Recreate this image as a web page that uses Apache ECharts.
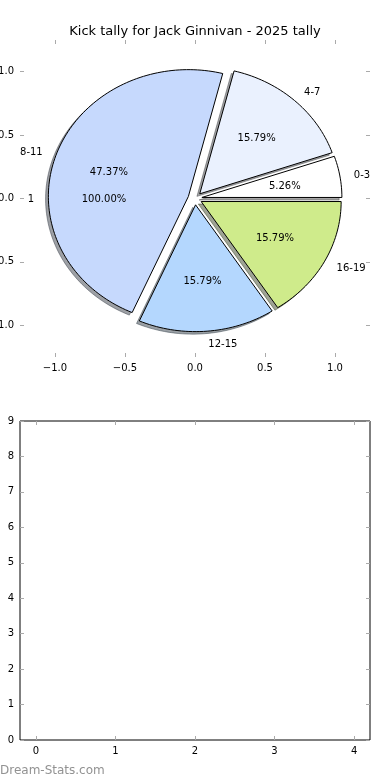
<!DOCTYPE html>
<html><head><meta charset="utf-8">
<script src="https://cdn.jsdelivr.net/npm/echarts@6/dist/echarts.min.js"></script>
<style>html,body{margin:0;padding:0;background:#fff}#c{width:390px;height:780px}</style>
</head><body><div id="c"></div>
<script>
const categories = ['0-3', '4-7', '8-11', '12-15', '16-19'];
const kicks = [1, 3, 9, 3, 3];
const sliceColors = ['#ffffff', '#eaf1fe', '#c6d9fd', '#b4d7fe', '#cfeb8b'];
const overallLabels = ['1'];
const overallValues = [1];
const pieTicks = [-1, -0.5, 0, 0.5, 1];
const lowerXTicks = [0, 1, 2, 3, 4];
const lowerYTicks = [0, 1, 2, 3, 4, 5, 6, 7, 8, 9];
const titleText = 'Kick tally for Jack Ginnivan - 2025 tally';
const watermark = 'Dream-Stats.com';

const EXPLODE = 0.05, SHADOW = -0.02, LABEL_DIST = 1.1, PCT_DIST = 0.6;
const FONT = 'DejaVu Sans';

function buildWedges(values, startAngle) {
  const total = values.reduce((a, b) => a + b, 0);
  let t = startAngle; const out = [];
  values.forEach((v, i) => {
    const span = v / total * 360;
    const t1 = t, t2 = t + span;
    const mid = (t1 + t2) / 2 * Math.PI / 180;
    out.push([EXPLODE * Math.cos(mid), EXPLODE * Math.sin(mid), t1, t2, i, v / total * 100]);
    t = t2;
  });
  return out;
}
const wedgeData = buildWedges(kicks, 0);
const overallData = buildWedges(overallValues, 0);

function arcPoints(api, cx, cy, t1, t2) {
  const pts = [api.coord([cx, cy])];
  const n = Math.max(4, Math.ceil((t2 - t1) / 1.5));
  for (let k = 0; k <= n; k++) {
    const a = (t1 + (t2 - t1) * k / n) * Math.PI / 180;
    pts.push(api.coord([cx + Math.cos(a), cy + Math.sin(a)]));
  }
  return pts;
}
function shadowColor(hex) {
  const r = parseInt(hex.slice(1, 3), 16), g = parseInt(hex.slice(3, 5), 16), b = parseInt(hex.slice(5, 7), 16);
  return `rgba(${Math.round(r * 0.3)},${Math.round(g * 0.3)},${Math.round(b * 0.3)},0.5)`;
}
function labelItems(api, names) {
  const cx = api.value(0), cy = api.value(1), t1 = api.value(2), t2 = api.value(3), i = api.value(4), pct = api.value(5);
  const mid = (t1 + t2) / 2 * Math.PI / 180;
  const lx = cx + LABEL_DIST * Math.cos(mid), ly = cy + LABEL_DIST * Math.sin(mid);
  const px = cx + PCT_DIST * Math.cos(mid), py = cy + PCT_DIST * Math.sin(mid);
  const lp = api.coord([lx, ly]), pp = api.coord([px, py]);
  return {
    type: 'group', children: [
      { type: 'text', style: { text: names[i], x: lp[0], y: lp[1] + 1, align: lx > 0 ? 'left' : 'right', verticalAlign: 'middle', fontSize: 10, fontFamily: FONT, fill: '#000' } },
      { type: 'text', style: { text: pct.toFixed(2) + '%', x: pp[0], y: pp[1] + 1, align: 'center', verticalAlign: 'middle', fontSize: 10, fontFamily: FONT, fill: '#000' } }
    ]
  };
}

const tickStyle = { show: true, inside: true, length: 4, lineStyle: { color: '#aaaaaa', width: 1 } };
const fmtTop = v => (v < 0 ? '\u2212' : '') + Math.abs(v).toFixed(1);
const labelStyle = { fontSize: 10, fontFamily: FONT, color: '#000' };

function axis(gridIndex, position, min, max, ticks, showLabels, formatter) {
  return {
    type: 'value', gridIndex, position, min, max,
    axisLine: { show: false, onZero: false }, splitLine: { show: false },
    axisTick: Object.assign({}, tickStyle, { customValues: ticks }),
    axisLabel: Object.assign({ show: showLabels, customValues: ticks, margin: 6, formatter }, labelStyle)
  };
}

const option = {
  animation: false,
  backgroundColor: '#fff',
  title: { text: titleText, left: 'center', top: 20, textStyle: { fontSize: 13, fontWeight: 'normal', fontFamily: FONT, color: '#000' } },
  grid: [
    { left: 20, right: 20, top: 40, height: 317, show: false, outerBoundsMode: 'none', containLabel: false },
    { left: 20, right: 20, top: 421, bottom: 40, show: true, borderColor: '#000', borderWidth: 1, backgroundColor: 'transparent', outerBoundsMode: 'none', containLabel: false }
  ],
  xAxis: [
    axis(0, 'bottom', -1.25, 1.25, pieTicks, true, fmtTop),
    axis(0, 'top', -1.25, 1.25, pieTicks, false, fmtTop),
    axis(1, 'bottom', -0.2, 4.2, lowerXTicks, true, v => String(v)),
    axis(1, 'top', -0.2, 4.2, lowerXTicks, false, v => String(v))
  ],
  yAxis: [
    axis(0, 'left', -1.25, 1.25, pieTicks, true, fmtTop),
    axis(0, 'right', -1.25, 1.25, pieTicks, false, fmtTop),
    axis(1, 'left', 0, 9, lowerYTicks, true, v => String(v)),
    axis(1, 'right', 0, 9, lowerYTicks, false, v => String(v))
  ],
  graphic: [
    { type: 'text', left: 0, top: 765, style: { text: watermark, fontSize: 12, fontFamily: FONT, fill: '#929292' } }
  ],
  series: [
    {
      type: 'custom', xAxisIndex: 0, yAxisIndex: 0, z: 1, clip: false,
      data: wedgeData, encode: { x: 0, y: 1 },
      renderItem: (params, api) => {
        const cx = api.value(0) + SHADOW, cy = api.value(1) + SHADOW, i = api.value(4);
        const c = shadowColor(sliceColors[i]);
        return { type: 'polygon', shape: { points: arcPoints(api, cx, cy, api.value(2), api.value(3)) }, style: { fill: c, stroke: c, lineWidth: 1 } };
      }
    },
    {
      type: 'custom', xAxisIndex: 0, yAxisIndex: 0, z: 2, clip: false,
      data: wedgeData, encode: { x: 0, y: 1 },
      renderItem: (params, api) => {
        const i = api.value(4);
        return { type: 'polygon', shape: { points: arcPoints(api, api.value(0), api.value(1), api.value(2), api.value(3)) }, style: { fill: sliceColors[i], stroke: '#000', lineWidth: 1, lineJoin: 'miter' } };
      }
    },
    {
      type: 'custom', xAxisIndex: 0, yAxisIndex: 0, z: 3, clip: false,
      data: wedgeData, encode: { x: 0, y: 1 },
      renderItem: (params, api) => labelItems(api, categories)
    },
    {
      type: 'custom', xAxisIndex: 0, yAxisIndex: 0, z: 3, clip: false,
      data: overallData, encode: { x: 0, y: 1 },
      renderItem: (params, api) => labelItems(api, overallLabels)
    }
  ]
};
echarts.init(document.getElementById('c'), null, { renderer: 'canvas' }).setOption(option);
</script>
</body></html>
